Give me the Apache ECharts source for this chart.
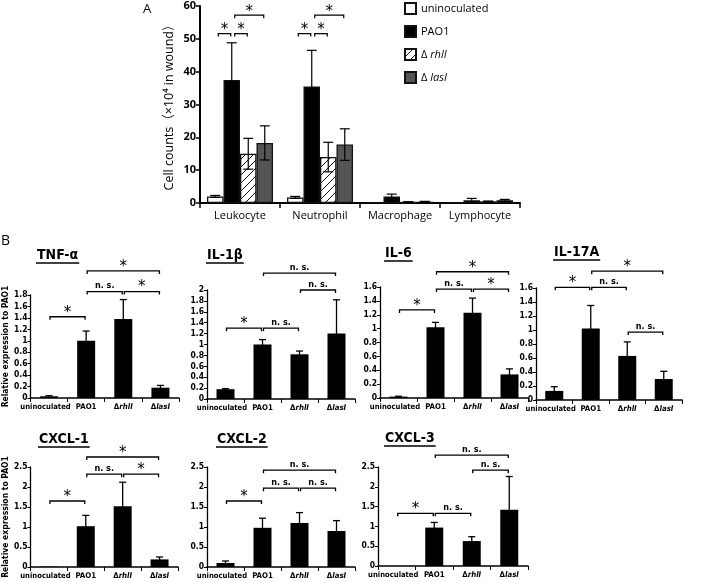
<!DOCTYPE html>
<html><head><meta charset="utf-8">
<script src="https://cdn.jsdelivr.net/npm/echarts@6/dist/echarts.min.js"></script>
<style>html,body{margin:0;padding:0;background:#fff}#c{width:709px;height:582px}</style>
</head><body><div id="c"></div>
<script>
// ---------- Panel A data ----------
const cellCats = ['Leukocyte', 'Neutrophil', 'Macrophage', 'Lymphocyte'];
const groupNames = ['uninoculated', 'PAO1', 'ΔrhlI', 'ΔlasI'];
const aUninoculated = [2.0, 1.7, 0.0, 0.0];
const aUninoculatedErr = [0.3, 0.3, 0.0, 0.0];
const aPAO1 = [37.5, 35.5, 2.0, 0.8];
const aPAO1Err = [11.3, 11.0, 0.7, 0.6];
const aRhlI = [15.0, 14.0, 0.3, 0.5];
const aRhlIErr = [4.7, 4.5, 0.1, 0.1];
const aLasI = [18.3, 17.8, 0.4, 0.8];
const aLasIErr = [5.2, 4.8, 0.1, 0.3];
// [category, groupFrom, groupTo, height, label]
const aBrackets = [
  [0, 0, 1, 51.6, '*'], [0, 1, 2, 51.6, '*'], [0, 1, 3, 57.2, '*'],
  [1, 0, 1, 51.6, '*'], [1, 1, 2, 51.6, '*'], [1, 1, 3, 57.2, '*']
];
const aTicks = [0, 10, 20, 30, 40, 50, 60];

// ---------- Panel B data ----------
const strainCats = ['uninoculated', 'PAO1', 'ΔrhlI', 'ΔlasI'];
const tnfVal = [0.03, 1.00, 1.38, 0.18];
const tnfErr = [0.01, 0.17, 0.34, 0.04];
const il1bVal = [0.18, 1.00, 0.82, 1.20];
const il1bErr = [0.01, 0.09, 0.06, 0.62];
const il6Val = [0.02, 1.02, 1.23, 0.34];
const il6Err = [0.005, 0.07, 0.21, 0.08];
const il17aVal = [0.13, 1.02, 0.63, 0.30];
const il17aErr = [0.06, 0.33, 0.20, 0.11];
const cxcl1Val = [0.01, 1.02, 1.52, 0.19];
const cxcl1Err = [0.0, 0.27, 0.60, 0.06];
const cxcl2Val = [0.10, 0.98, 1.10, 0.90];
const cxcl2Err = [0.05, 0.24, 0.26, 0.26];
const cxcl3Val = [0.0, 0.97, 0.63, 1.42];
const cxcl3Err = [0.0, 0.13, 0.11, 0.84];
// [from, to, height, label]
const tnfBr = [[0, 1, 1.42, '*'], [1, 2, 1.86, 'n. s.'], [2, 3, 1.86, '*'], [1, 3, 2.22, '*']];
const il1bBr = [[0, 1, 1.30, '*'], [1, 2, 1.30, 'n. s.'], [2, 3, 2.00, 'n. s.'], [1, 3, 2.31, 'n. s.']];
const il6Br = [[0, 1, 1.27, '*'], [1, 2, 1.57, 'n. s.'], [2, 3, 1.57, '*'], [1, 3, 1.82, '*']];
const il17aBr = [[0, 1, 1.61, '*'], [1, 2, 1.61, 'n. s.'], [2, 3, 0.97, 'n. s.'], [1, 3, 1.84, '*']];
const cxcl1Br = [[0, 1, 1.65, '*'], [1, 2, 2.32, 'n. s.'], [2, 3, 2.32, '*'], [1, 3, 2.75, '*']];
const cxcl2Br = [[0, 1, 1.65, '*'], [1, 2, 1.97, 'n. s.'], [2, 3, 1.97, 'n. s.'], [1, 3, 2.42, 'n. s.']];
const cxcl3Br = [[0, 1, 1.33, '*'], [1, 2, 1.33, 'n. s.'], [2, 3, 2.42, 'n. s.'], [1, 3, 2.80, 'n. s.']];
const cytokineNames = ['TNF-α', 'IL-1β', 'IL-6', 'IL-17A', 'CXCL-1', 'CXCL-2', 'CXCL-3'];
const yMaxes = [1.8, 2, 1.6, 1.6, 2.5, 2.5, 2.5];
const yIntervals = [0.2, 0.2, 0.2, 0.2, 0.5, 0.5, 0.5];

// ---------- styling / layout ----------
const FA = '"Open Sans", "Noto Sans", "Noto Sans CJK SC", sans-serif';
const FB = '"Liberation Sans Narrow", "DejaVu Sans Condensed", "Liberation Sans", sans-serif';
const A_GAP = 0.175;

function hatch(sp) {
  const c = document.createElement('canvas'); c.width = sp; c.height = sp;
  const g = c.getContext('2d');
  g.fillStyle = '#fff'; g.fillRect(0, 0, sp, sp);
  g.strokeStyle = '#111'; g.lineWidth = 1;
  g.beginPath();
  g.moveTo(0, sp); g.lineTo(sp, 0);
  g.moveTo(-1, 1); g.lineTo(1, -1);
  g.moveTo(sp - 1, sp + 1); g.lineTo(sp + 1, sp - 1);
  g.stroke();
  return c;
}
const hatchPat = { image: hatch(8), repeat: 'repeat' };

const aSeriesVals = [aUninoculated, aPAO1, aRhlI, aLasI];
const aSeriesErrs = [aUninoculatedErr, aPAO1Err, aRhlIErr, aLasIErr];
const aColors = ['#fff', '#000', hatchPat, '#555'];

const bVals = [tnfVal, il1bVal, il6Val, il17aVal, cxcl1Val, cxcl2Val, cxcl3Val];
const bErrs = [tnfErr, il1bErr, il6Err, il17aErr, cxcl1Err, cxcl2Err, cxcl3Err];
const bBrs = [tnfBr, il1bBr, il6Br, il17aBr, cxcl1Br, cxcl2Br, cxcl3Br];

const bGrids = [
  { left: 29, top: 295, width: 150, height: 103 },
  { left: 207, top: 290, width: 148, height: 109 },
  { left: 380, top: 287, width: 148, height: 111 },
  { left: 536, top: 288, width: 146, height: 112 },
  { left: 28, top: 467, width: 150, height: 100 },
  { left: 207, top: 467, width: 148, height: 100 },
  { left: 378, top: 467, width: 150, height: 99 }
];
const titlePos = [[37, 255], [207, 255], [385, 253], [554, 252], [39, 439], [217, 439], [385, 438]];

function labelFmt(name) {
  if (name.charAt(0) === 'Δ') return '{d|Δ}{i|' + name.slice(1) + '}';
  if (name === 'uninoculated') return '{u|' + name + '}';
  return '{n|' + name + '}';
}
function legendFmt(name) {
  if (name.charAt(0) === 'Δ') return '{d|Δ }{i|' + name.slice(1) + '}';
  return '{n|' + name + '}';
}

// error bar renderer
function errRender(groupN, gap, capHalf, lw, bottomCap) {
  return function (params, api) {
    const cat = api.value(0), v = api.value(1), e = api.value(2), s = api.value(3);
    if (!(e > 0)) return null;
    let off = 0;
    if (groupN > 1) {
      const band = api.size([1, 0])[0];
      const bw = band * (1 - gap) / groupN;
      off = (s - (groupN - 1) / 2) * bw;
    }
    const top = api.coord([cat, v + e]);
    const bot = api.coord([cat, Math.max(v - e, 0)]);
    const x = top[0] + off;
    const ch = [
      { type: 'line', shape: { x1: x, y1: top[1], x2: x, y2: bot[1] }, style: { stroke: '#000', lineWidth: lw } },
      { type: 'line', shape: { x1: x - capHalf, y1: top[1], x2: x + capHalf, y2: top[1] }, style: { stroke: '#000', lineWidth: lw } }
    ];
    if (bottomCap && v - e > 0) ch.push({ type: 'line', shape: { x1: x - capHalf, y1: bot[1], x2: x + capHalf, y2: bot[1] }, style: { stroke: '#000', lineWidth: lw } });
    return { type: 'group', children: ch };
  };
}

function bracketShape(x1, x2, y, label, tick, lw, starSize, nsSize, starDy) {
  const ch = [{
    type: 'polyline',
    shape: { points: [[x1, y + tick], [x1, y], [x2, y], [x2, y + tick]] },
    style: { stroke: '#000', lineWidth: lw, fill: null }
  }];
  const isStar = label === '*';
  ch.push({
    type: 'text',
    x: (x1 + x2) / 2, y: isStar ? y - starDy : y - 1,
    style: {
      text: label, align: 'center', verticalAlign: isStar ? 'middle' : 'bottom',
      font: isStar ? ('normal ' + starSize + 'px "DejaVu Sans", sans-serif') : ('bold ' + nsSize + 'px ' + FB),
      fill: '#000'
    }
  });
  return { type: 'group', children: ch };
}

function aBracketRender(params, api) {
  const b = aBrackets[params.dataIndex];
  const band = api.size([1, 0])[0];
  const bw = band * (1 - A_GAP) / 4;
  const c = api.coord([b[0], b[3]]);
  const x1 = c[0] + (b[1] - 1.5) * bw + 3;
  const x2 = c[0] + (b[2] - 1.5) * bw - 1;
  return bracketShape(x1, x2, c[1], b[4], 3, 1.2, 15, 9, 3);
}

function bBracketRender(brs) {
  return function (params, api) {
    const b = brs[params.dataIndex];
    const c1 = api.coord([b[0], b[2]]);
    const c2 = api.coord([b[1], b[2]]);
    return bracketShape(c1[0] + 1, c2[0] - 1, c1[1], b[3], 3, 1.3, 15, 9, 4);
  };
}

const grids = [{ left: 200, top: 6, width: 320, height: 197 }].concat(bGrids);
const xAxes = [], yAxes = [], series = [];

// Panel A axes
xAxes.push({
  type: 'category', gridIndex: 0, data: cellCats,
  axisLine: { lineStyle: { color: '#000', width: 2 } },
  axisTick: { show: true, length: 5, lineStyle: { color: '#000', width: 1.5 } },
  axisLabel: { interval: 0, color: '#000', fontFamily: FA, fontSize: 11, margin: 7 }
});
yAxes.push({
  type: 'value', gridIndex: 0, min: 0, max: 60, interval: 10,
  name: 'Cell counts（×10⁴ in wound）', nameLocation: 'middle', nameGap: 24, nameRotate: 90,
  nameTextStyle: { color: '#000', fontFamily: FA, fontSize: 12.5 },
  axisLine: { show: true, lineStyle: { color: '#000', width: 2 } },
  axisTick: { show: true, length: 4, lineStyle: { color: '#000', width: 1.5 } },
  splitLine: { show: false },
  axisLabel: { color: '#000', fontFamily: FA, fontSize: 11, fontWeight: 'bold', margin: 4 }
});
groupNames.forEach((nm, s) => {
  series.push({
    type: 'bar', name: nm, xAxisIndex: 0, yAxisIndex: 0, data: aSeriesVals[s],
    barGap: '0%', barCategoryGap: (A_GAP * 100) + '%',
    itemStyle: { color: aColors[s], borderColor: '#111', borderWidth: 1.3 },
    z: 2
  });
});
const aErrData = [];
groupNames.forEach((nm, s) => {
  cellCats.forEach((c, i) => aErrData.push([i, aSeriesVals[s][i], aSeriesErrs[s][i], s]));
});
series.push({
  type: 'custom', xAxisIndex: 0, yAxisIndex: 0, data: aErrData, encode: { x: 0, y: 1 },
  renderItem: errRender(4, A_GAP, 5, 1.2, true), z: 5, clip: false, silent: true
});
series.push({
  type: 'custom', xAxisIndex: 0, yAxisIndex: 0,
  data: aBrackets.map(b => [b[0], b[1], b[2], b[3]]), encode: { x: 0, y: 3 },
  renderItem: aBracketRender, z: 6, clip: false, silent: true
});

// Panel B axes & series
bVals.forEach((vals, k) => {
  const gi = k + 1;
  const showName = (k === 0 || k === 4);
  xAxes.push({
    type: 'category', gridIndex: gi, data: strainCats,
    axisLine: { lineStyle: { color: '#000', width: 1.5 } },
    axisTick: { show: true, length: 4, lineStyle: { color: '#000', width: 1 } },
    axisLabel: {
      interval: 0, margin: 5, formatter: labelFmt,
      rich: {
        u: { fontFamily: FB, fontSize: 7.6, fontWeight: 'bold', color: '#000', padding: [0, 7, 0, 0] },
        n: { fontFamily: FB, fontSize: 7.8, fontWeight: 'bold', color: '#000' },
        d: { fontFamily: FB, fontSize: 7.8, fontWeight: 'bold', color: '#000' },
        i: { fontFamily: FB, fontSize: 7.8, fontWeight: 'bold', fontStyle: 'italic', color: '#000' }
      }
    }
  });
  yAxes.push({
    type: 'value', gridIndex: gi, min: 0, max: yMaxes[k], interval: yIntervals[k],
    name: showName ? 'Relative expression to PAO1' : '', nameLocation: 'middle', nameGap: 20, nameRotate: 90,
    nameTextStyle: { color: '#000', fontFamily: FB, fontSize: 8.5, fontWeight: 'bold' },
    axisLine: { show: true, lineStyle: { color: '#000', width: 1.3 } },
    axisTick: { show: true, length: 3, lineStyle: { color: '#000', width: 1 } },
    splitLine: { show: false },
    axisLabel: { color: '#000', fontFamily: FB, fontSize: 8.5, fontWeight: 'bold', margin: 3 }
  });
  series.push({
    type: 'bar', name: cytokineNames[k], xAxisIndex: gi, yAxisIndex: gi, data: vals,
    barWidth: 18, itemStyle: { color: '#000' }, z: 2
  });
  series.push({
    type: 'custom', xAxisIndex: gi, yAxisIndex: gi,
    data: vals.map((v, i) => [i, v, bErrs[k][i], 0]), encode: { x: 0, y: 1 },
    renderItem: errRender(1, 0, 3.5, 1.3, false), z: 5, clip: false, silent: true
  });
  series.push({
    type: 'custom', xAxisIndex: gi, yAxisIndex: gi,
    data: bBrs[k].map(b => [b[0], b[1], b[2]]), encode: { x: 0, y: 2 },
    renderItem: bBracketRender(bBrs[k]), z: 6, clip: false, silent: true
  });
});

// titles (text + underline)
const mc = document.createElement('canvas').getContext('2d');
const titleFont = 'bold 14px ' + FB;
mc.font = titleFont;
const graphics = [
  { type: 'text', left: 143, top: 3, style: { text: 'A', font: 'normal 13px ' + FA, fill: '#000' } },
  { type: 'text', left: 1, top: 234, style: { text: 'B', font: 'normal 14px ' + FA, fill: '#000' } }
];
cytokineNames.forEach((nm, k) => {
  const p = titlePos[k];
  const w = mc.measureText(nm).width;
  graphics.push({ type: 'text', x: p[0], y: p[1], style: { text: nm, font: titleFont, fill: '#000', textAlign: 'left', textVerticalAlign: 'middle', verticalAlign: 'middle' } });
  graphics.push({ type: 'line', shape: { x1: p[0] - 1, y1: p[1] + 8, x2: p[0] + w + 1, y2: p[1] + 8 }, style: { stroke: '#000', lineWidth: 1.5 } });
});

const chart = echarts.init(document.getElementById('c'), null, { renderer: 'canvas' });
chart.setOption({
  backgroundColor: '#fff',
  animation: false,
  grid: grids,
  xAxis: xAxes,
  yAxis: yAxes,
  legend: {
    data: groupNames, orient: 'vertical', left: 404, top: 2, padding: 0,
    itemWidth: 11, itemHeight: 11, itemGap: 10, icon: 'rect',
    formatter: legendFmt,
    textStyle: {
      rich: {
        n: { fontFamily: FA, fontSize: 11, color: '#000' },
        d: { fontFamily: FA, fontSize: 11, color: '#000' },
        i: { fontFamily: FA, fontSize: 11, fontStyle: 'italic', color: '#000' }
      }
    }
  },
  graphic: graphics,
  series: series
});
</script></body></html>
